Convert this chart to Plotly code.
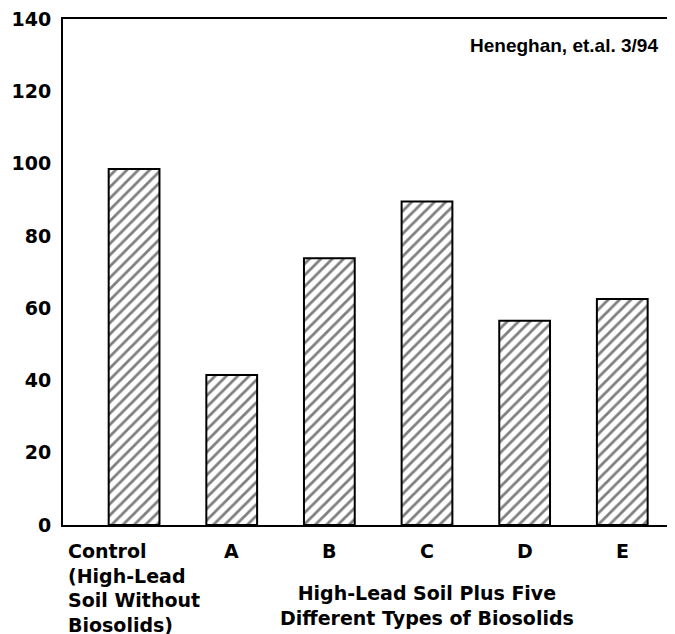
import plotly.graph_objects as go

categories = ["Control<br>(High-Lead<br>Soil Without<br>Biosolids)", "A", "B", "C", "D", "E"]
values = [98.5, 41.5, 73.8, 89.5, 56.5, 62.5]
y_ticks = [0, 20, 40, 60, 80, 100, 120, 140]
group_label = "High-Lead Soil Plus Five<br>Different Types of Biosolids"
note = "Heneghan, et.al. 3/94"

x_pos = list(range(len(categories)))
big_font = dict(family="DejaVu Sans", size=19, color="black", weight="bold")

fig = go.Figure()
fig.add_trace(go.Bar(
    x=x_pos, y=values, width=0.52,
    marker=dict(color="white", line=dict(color="black", width=2),
                pattern=dict(shape="/", size=8, solidity=0.35,
                             fgcolor="black", bgcolor="white")),
    showlegend=False, hoverinfo="skip",
))

annotations = []
for i, lab in enumerate(categories):
    annotations.append(dict(
        x=i, y=0, xref="x", yref="y", text=lab, showarrow=False,
        xanchor="center", yanchor="top", align="left",
        yshift=-13, font=big_font,
    ))
group_idx = x_pos[1:]
annotations.append(dict(
    x=sum(group_idx) / len(group_idx), y=0, xref="x", yref="y",
    text=group_label, showarrow=False, xanchor="center", yanchor="top",
    align="center", yshift=-55, font=big_font,
))
annotations.append(dict(
    x=0.975, y=0.947, xref="paper", yref="paper", text=note, showarrow=False,
    xanchor="right", yanchor="middle",
    font=dict(family="Liberation Sans", size=19, color="black", weight="bold"),
))

fig.update_layout(
    width=667, height=626,
    margin=dict(l=55, r=0, t=9, b=109),
    plot_bgcolor="white", paper_bgcolor="white",
    annotations=annotations,
    xaxis=dict(range=[-0.728, 5.54], showticklabels=False, showgrid=False,
               zeroline=False, showline=True, linecolor="black", linewidth=2,
               mirror=True, ticks=""),
    yaxis=dict(range=[0, 140], tickvals=y_ticks, showgrid=False, zeroline=False,
               showline=True, linecolor="black", linewidth=2, ticks="",
               ticklabelstandoff=6, tickfont=big_font,
               ticklabeloverflow="allow"),
)

fig.write_html("out.html")
